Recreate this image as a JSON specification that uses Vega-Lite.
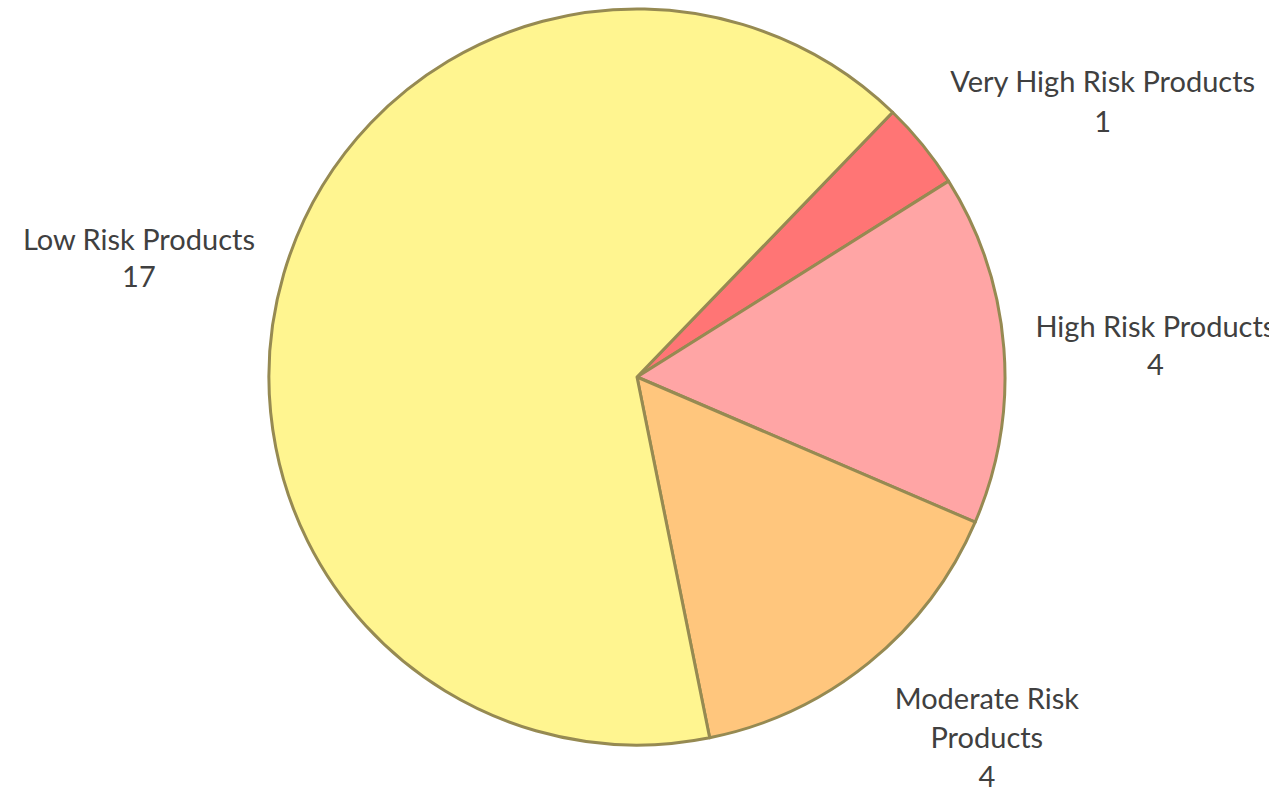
{
  "$schema": "https://vega.github.io/schema/vega-lite/v6.json",
  "width": 1264,
  "height": 754,
  "autosize": {"type": "none"},
  "padding": {"left": 5, "top": 0, "right": 0, "bottom": 45},
  "background": "white",
  "config": {"view": {"stroke": null}},
  "data": {
    "values": [
      {"category": "Very High Risk Products", "value": 1, "order": 1, "label": "Very High Risk Products\n1"},
      {"category": "High Risk Products", "value": 4, "order": 2, "label": "High Risk Products\n4"},
      {"category": "Moderate Risk Products", "value": 4, "order": 3, "label": "Moderate Risk\nProducts\n4"},
      {"category": "Low Risk Products", "value": 17, "order": 4, "label": "Low Risk Products\n17"}
    ]
  },
  "encoding": {
    "theta": {"field": "value", "type": "quantitative", "stack": true, "scale": {"range": [0.7679, 7.0511]}},
    "order": {"field": "order", "type": "quantitative", "sort": "ascending"},
    "detail": {"field": "category", "type": "nominal"}
  },
  "layer": [
    {
      "mark": {"type": "arc", "outerRadius": 368, "stroke": "#968A52", "strokeWidth": 3, "strokeJoin": "round"},
      "encoding": {
        "color": {
          "field": "category",
          "type": "nominal",
          "legend": null,
          "scale": {
            "domain": ["Very High Risk Products", "High Risk Products", "Moderate Risk Products", "Low Risk Products"],
            "range": ["#FF7575", "#FFA5A5", "#FFC67D", "#FFF590"]
          }
        }
      }
    },
    {
      "mark": {"type": "text", "radius": 520, "font": "Lato", "fontSize": 29, "fill": "#404040", "lineBreak": "\n", "lineHeight": 40, "align": "center", "baseline": "middle", "dx": 62, "dy": 34},
      "encoding": {"text": {"condition": {"test": "datum.category === 'Very High Risk Products'", "field": "label", "type": "nominal"}, "value": ""}}
    },
    {
      "mark": {"type": "text", "radius": 520, "font": "Lato", "fontSize": 29, "fill": "#404040", "lineBreak": "\n", "lineHeight": 38, "align": "center", "baseline": "middle", "dx": 0, "dy": -9},
      "encoding": {"text": {"condition": {"test": "datum.category === 'High Risk Products'", "field": "label", "type": "nominal"}, "value": ""}}
    },
    {
      "mark": {"type": "text", "radius": 520, "font": "Lato", "fontSize": 29, "fill": "#404040", "lineBreak": "\n", "lineHeight": 39, "align": "center", "baseline": "middle", "dx": 22, "dy": -81},
      "encoding": {"text": {"condition": {"test": "datum.category === 'Moderate Risk Products'", "field": "label", "type": "nominal"}, "value": ""}}
    },
    {
      "mark": {"type": "text", "radius": 520, "font": "Lato", "fontSize": 29, "fill": "#404040", "lineBreak": "\n", "lineHeight": 37, "align": "center", "baseline": "middle", "dx": 1, "dy": 10},
      "encoding": {"text": {"condition": {"test": "datum.category === 'Low Risk Products'", "field": "label", "type": "nominal"}, "value": ""}}
    }
  ]
}
